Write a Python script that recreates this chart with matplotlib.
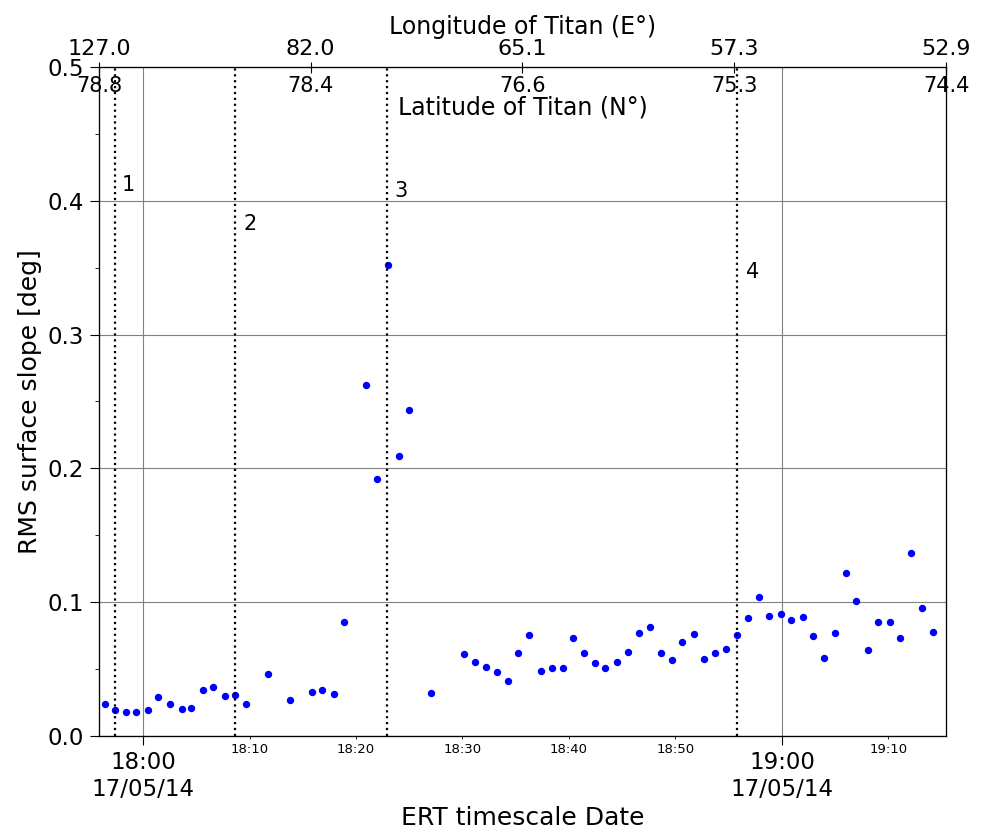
import numpy as np
import pandas as pd
import matplotlib
matplotlib.use('Agg')
from matplotlib import pyplot as plt
import matplotlib.dates as mdates
from matplotlib.ticker import MultipleLocator

day = '2014-05-17 '

times = ['17:56:24', '17:57:20', '17:58:26', '17:59:23', '18:00:26', '18:01:25',
         '18:02:31', '18:03:37', '18:04:33', '18:05:37', '18:06:35', '18:07:40',
         '18:08:38', '18:09:43', '18:11:44', '18:13:49', '18:15:51', '18:16:49',
         '18:17:55', '18:18:53', '18:20:55', '18:21:59', '18:22:58', '18:24:03',
         '18:24:59', '18:27:03', '18:30:09', '18:31:08', '18:32:11', '18:33:12',
         '18:34:16', '18:35:14', '18:36:16', '18:37:23', '18:38:22', '18:39:26',
         '18:40:23', '18:41:22', '18:42:26', '18:43:24', '18:44:28', '18:45:34',
         '18:46:32', '18:47:36', '18:48:36', '18:49:38', '18:50:36', '18:51:42',
         '18:52:40', '18:53:44', '18:54:43', '18:55:48', '18:56:47', '18:57:50',
         '18:58:49', '18:59:53', '19:00:51', '19:01:56', '19:02:55', '19:03:58',
         '19:04:57', '19:06:01', '19:06:59', '19:08:05', '19:09:03', '19:10:07',
         '19:11:05', '19:12:09', '19:13:07', '19:14:13']

rms_slope = [0.0237, 0.0194, 0.0177, 0.0177, 0.0194, 0.0289,
             0.0237, 0.0202, 0.0212, 0.0346, 0.0366, 0.0297,
             0.0306, 0.0237, 0.0461, 0.0271, 0.0331, 0.0341,
             0.0311, 0.0852, 0.2626, 0.1923, 0.3523, 0.2093,
             0.2436, 0.0321, 0.0613, 0.0553, 0.0518, 0.0476,
             0.0409, 0.0623, 0.0757, 0.0486, 0.0511, 0.0511,
             0.0735, 0.0623, 0.0546, 0.0511, 0.0553, 0.0630,
             0.0767, 0.0812, 0.0623, 0.0570, 0.0700, 0.0760,
             0.0578, 0.0620, 0.0648, 0.0757, 0.0880, 0.1041,
             0.0894, 0.0912, 0.0870, 0.0887, 0.0750, 0.0580,
             0.0767, 0.1221, 0.1006, 0.0640, 0.0852, 0.0852,
             0.0732, 0.1365, 0.0954, 0.0777]

event_times = ['17:57:20', '18:08:37', '18:22:55', '18:55:45']
event_names = ['1', '2', '3', '4']
event_label_times = ['17:58:00', '18:09:25', '18:23:35', '18:56:35']
event_label_y = [0.412, 0.383, 0.407, 0.347]

x_start = '17:55:52'
x_end = '19:15:24'

longitude = ['127.0', '82.0', '65.1', '57.3', '52.9']
latitude = ['78.8', '78.4', '76.6', '75.3', '74.4']

t = pd.to_datetime([day + s for s in times])
ev = pd.to_datetime([day + s for s in event_times])
ev_lab = pd.to_datetime([day + s for s in event_label_times])
xlim = (mdates.date2num(pd.Timestamp(day + x_start)), mdates.date2num(pd.Timestamp(day + x_end)))

fig = plt.figure(figsize=(9.86, 8.32), dpi=100)
ax = fig.add_axes([0.1004, 0.1154, 0.859, 0.8041])

ax.plot(t, rms_slope, 'o', color='blue', markersize=4.3)
for e in ev:
    ax.axvline(e, color='black', linestyle=':', linewidth=1.6)
for xl, yl, name in zip(ev_lab, event_label_y, event_names):
    ax.text(xl, yl, name, fontsize=15, ha='left', va='center')

ax.set_xlim(xlim)
ax.set_ylim(0, 0.5)
ax.yaxis.set_major_locator(MultipleLocator(0.1))
ax.yaxis.set_minor_locator(MultipleLocator(0.05))
ax.xaxis.set_major_locator(mdates.HourLocator())
ax.xaxis.set_major_formatter(mdates.DateFormatter('%H:%M\n%d/%m/%y'))
ax.xaxis.set_minor_locator(mdates.MinuteLocator(byminute=range(10, 60, 10)))
ax.xaxis.set_minor_formatter(mdates.DateFormatter('%H:%M'))
ax.tick_params(axis='both', which='major', length=6.5, pad=4.5)
ax.tick_params(axis='x', which='major', labelsize=16.5)
ax.tick_params(axis='x', which='minor', labelsize=9.5, length=2)
ax.tick_params(axis='y', which='major', labelsize=16.5)
ax.tick_params(axis='y', which='minor', length=2.7)
ax.grid(True, which='major', color='gray', linewidth=0.8)
ax.set_xlabel('ERT timescale Date', fontsize=18)
ax.set_ylabel('RMS surface slope [deg]', fontsize=18)

pos = np.linspace(xlim[0], xlim[1], len(longitude))

ax2 = ax.twiny()
ax2.set_xlim(xlim)
ax2.set_xticks(pos)
ax2.set_xticklabels(longitude)
ax2.tick_params(axis='x', labelsize=16, length=3.5, pad=2.5)
ax2.set_xlabel('Longitude of Titan (E°)', fontsize=17, labelpad=3)

ax3 = ax.twiny()
ax3.set_xlim(xlim)
ax3.set_xticks(pos)
ax3.set_xticklabels(latitude)
ax3.tick_params(axis='x', direction='in', length=4, pad=-21, labelsize=15)
ax.text(0.5, 0.94, 'Latitude of Titan (N°)', transform=ax.transAxes,
        ha='center', va='center', fontsize=17)

plt.savefig('out.png', dpi=100)
